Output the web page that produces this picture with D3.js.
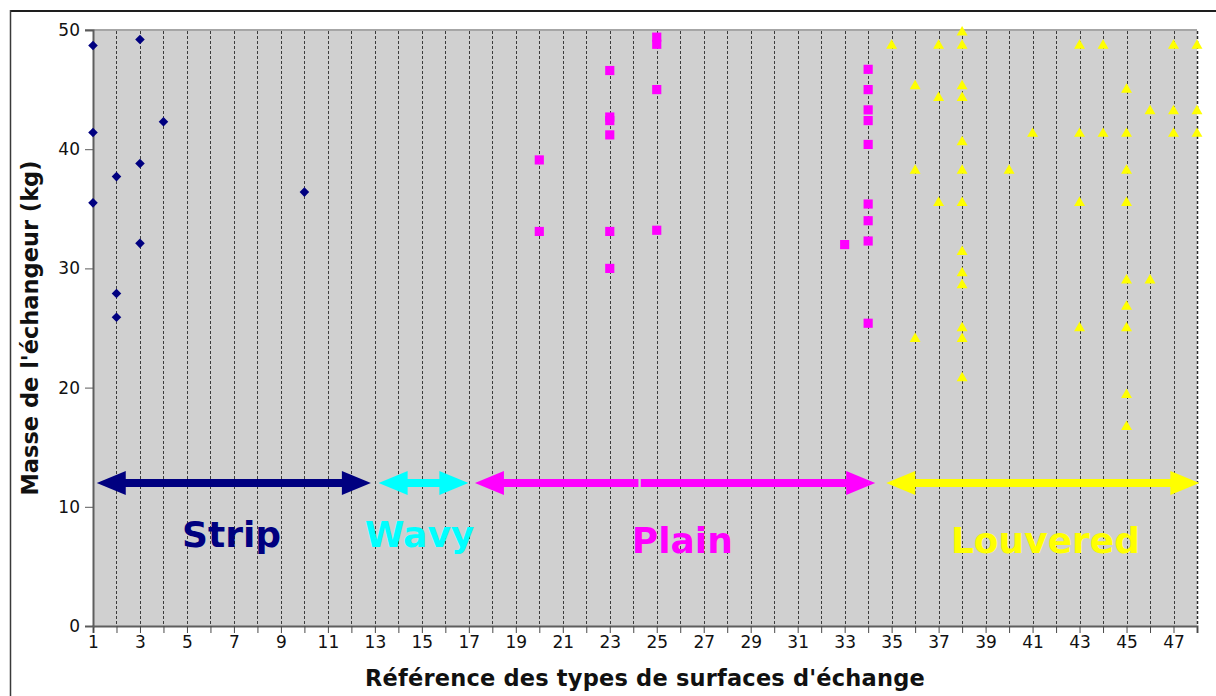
<!DOCTYPE html>
<html>
<head>
<meta charset="utf-8">
<script src="https://cdn.jsdelivr.net/npm/d3@7"></script>
<style>
  html, body { margin: 0; padding: 0; background: #ffffff; }
  svg { display: block; }
  text { font-family: "DejaVu Sans", sans-serif; }
</style>
</head>
<body>
<svg id="chart" width="1216" height="696"></svg>
<script>
// ---------- data ----------
const stripPoints = [
  [1, 48.7], [1, 41.4], [1, 35.5],
  [2, 37.7], [2, 27.9], [2, 25.9],
  [3, 49.2], [3, 38.8], [3, 32.1],
  [4, 42.3],
  [10, 36.4]
];
const plainPoints = [
  [20, 39.1], [20, 33.1],
  [23, 46.6], [23, 42.7], [23, 42.4], [23, 41.2], [23, 33.1], [23, 30.0],
  [25, 49.4], [25, 48.8], [25, 45.0], [25, 33.2],
  [33, 32.0],
  [34, 46.7], [34, 45.0], [34, 43.3], [34, 42.4], [34, 40.4], [34, 35.4], [34, 34.0], [34, 32.3], [34, 25.4]
];
const louveredPoints = [
  [35, 48.7],
  [36, 45.3], [36, 38.2], [36, 24.1],
  [37, 48.7], [37, 44.3], [37, 35.5],
  [38, 49.8], [38, 48.7], [38, 45.3], [38, 44.3], [38, 40.6], [38, 38.2], [38, 35.5],
  [38, 31.4], [38, 29.6], [38, 28.6], [38, 25.0], [38, 24.1], [38, 20.8],
  [40, 38.2],
  [41, 41.3],
  [43, 48.7], [43, 41.3], [43, 35.5], [43, 25.0],
  [44, 48.7], [44, 41.3],
  [45, 45.0], [45, 41.3], [45, 38.2], [45, 35.5], [45, 29.0], [45, 26.8], [45, 25.0], [45, 19.4], [45, 16.7],
  [46, 43.2], [46, 29.0],
  [47, 48.7], [47, 43.2], [47, 41.3],
  [48, 48.7], [48, 43.2], [48, 41.3]
];
const categoryNames = ["Strip", "Wavy", "Plain", "Louvered"];
const categoryColors = ["#000080", "#00ffff", "#ff00ff", "#ffff00"];
// arrow spans (x from, x to, heads) on the category level y = 12
const arrowLevel = 12;
const arrowSpans = [
  { cat: 0, from: 1.16, to: 12.83, left: true, right: true },
  { cat: 1, from: 13.16, to: 16.98, left: true, right: true },
  { cat: 2, from: 17.26, to: 24.22, left: true, right: false },
  { cat: 2, from: 24.32, to: 34.3, left: false, right: true },
  { cat: 3, from: 34.77, to: 48.1, left: true, right: true }
];
// category label anchor (data coords)
const labelAnchors = [[6.9, 6.63], [14.9, 6.65], [26.09, 6.12], [41.55, 6.12]];
const xTickValues = d3.range(1, 48, 2);
const xGridValues = d3.range(1, 49, 1);
const yTickValues = [0, 10, 20, 30, 40, 50];
const xTitle = "Référence des types de surfaces d'échange";
const yTitle = "Masse de l'échangeur (kg)";

// ---------- layout ----------
const svg = d3.select("#chart");
const pLeft = 93, pRight = 1197, pTop = 30, pBottom = 626;
const x = d3.scaleLinear().domain([1, 48]).range([pLeft, pRight]);
const y = d3.scaleLinear().domain([0, 50]).range([pBottom, pTop]);

// outer frame (top & left edges visible)
svg.append("line").attr("x1", 10).attr("x2", 1216).attr("y1", 11).attr("y2", 11)
  .attr("stroke", "#1e1e1e").attr("stroke-width", 2);
svg.append("line").attr("x1", 10.5).attr("x2", 10.5).attr("y1", 10).attr("y2", 696)
  .attr("stroke", "#3a3a3a").attr("stroke-width", 1.5);

// plot background
svg.append("rect").attr("x", pLeft).attr("y", pTop)
  .attr("width", pRight - pLeft).attr("height", pBottom - pTop)
  .attr("fill", "#d0d0d0");
svg.append("line").attr("x1", pLeft - 8).attr("x2", pRight).attr("y1", pTop).attr("y2", pTop)
  .attr("stroke", "#a6a6a6").attr("stroke-width", 2);

// vertical dashed grid
svg.append("g").selectAll("line").data(xGridValues.filter(v => v > 1)).join("line")
  .attr("x1", d => Math.round(x(d)) + 0.5).attr("x2", d => Math.round(x(d)) + 0.5)
  .attr("y1", pTop + 1).attr("y2", pBottom)
  .attr("stroke", d => d === 48 ? "#2a2a2a" : "#3c3c3c")
  .attr("stroke-width", d => d === 48 ? 1.5 : 1)
  .attr("stroke-dasharray", "3,2");

// x axis
const xAxis = svg.append("g").attr("transform", `translate(0,${pBottom})`)
  .call(d3.axisBottom(x).tickValues(xGridValues).tickSize(7).tickPadding(3)
    .tickFormat(d => xTickValues.includes(d) ? d : ""));
xAxis.select(".domain").attr("stroke", "#5e5e5e").attr("stroke-width", 2);
xAxis.selectAll(".tick line").attr("stroke", "#4a4a4a");
xAxis.selectAll(".tick text").attr("font-size", 17).attr("fill", "#111")
  .attr("font-family", "DejaVu Sans");

// y axis
const yAxis = svg.append("g").attr("transform", `translate(${pLeft},0)`)
  .call(d3.axisLeft(y).tickValues(yTickValues).tickSize(8).tickPadding(5));
yAxis.select(".domain").attr("stroke", "#5e5e5e").attr("stroke-width", 2);
yAxis.selectAll(".tick line").attr("stroke", "#5a5a5a");
yAxis.selectAll(".tick text").attr("font-size", 17).attr("fill", "#111")
  .attr("font-family", "DejaVu Sans");

// arrows
const shaft = 8, headLen = 29, headHalf = 12;
function arrowPath(a) {
  const x0 = x(a.from), x1 = x(a.to), yc = y(arrowLevel);
  const p = d3.path();
  const s = shaft / 2;
  if (a.left) {
    p.moveTo(x0, yc);
    p.lineTo(x0 + headLen, yc - headHalf);
    p.lineTo(x0 + headLen, yc - s);
  } else {
    p.moveTo(x0, yc - s);
  }
  if (a.right) {
    p.lineTo(x1 - headLen, yc - s);
    p.lineTo(x1 - headLen, yc - headHalf);
    p.lineTo(x1, yc);
    p.lineTo(x1 - headLen, yc + headHalf);
    p.lineTo(x1 - headLen, yc + s);
  } else {
    p.lineTo(x1, yc - s);
    p.lineTo(x1, yc + s);
  }
  if (a.left) {
    p.lineTo(x0 + headLen, yc + s);
    p.lineTo(x0 + headLen, yc + headHalf);
  } else {
    p.lineTo(x0, yc + s);
  }
  p.closePath();
  return p.toString();
}
svg.append("g").selectAll("path").data(arrowSpans).join("path")
  .attr("d", arrowPath)
  .attr("fill", d => categoryColors[d.cat]);

// category labels
svg.append("g").selectAll("text").data(categoryNames).join("text")
  .attr("x", (d, i) => x(labelAnchors[i][0]))
  .attr("y", (d, i) => y(labelAnchors[i][1]))
  .attr("text-anchor", "middle")
  .attr("font-size", 36).attr("font-weight", "bold")
  .attr("fill", (d, i) => categoryColors[i])
  .text(d => d);

// points
const diamond = d3.symbol().type(d3.symbolSquare).size(46);
const square = d3.symbol().type(d3.symbolSquare).size(84);
const triangle = d3.symbol().type(d3.symbolTriangle).size(52);

svg.append("g").selectAll("path").data(stripPoints).join("path")
  .attr("d", diamond)
  .attr("transform", d => `translate(${x(d[0])},${y(d[1])}) rotate(45)`)
  .attr("fill", categoryColors[0]);
svg.append("g").selectAll("path").data(plainPoints).join("path")
  .attr("d", square)
  .attr("transform", d => `translate(${x(d[0])},${y(d[1])})`)
  .attr("fill", categoryColors[2]);
svg.append("g").selectAll("path").data(louveredPoints).join("path")
  .attr("d", triangle)
  .attr("transform", d => `translate(${x(d[0])},${y(d[1])})`)
  .attr("fill", categoryColors[3]);

// axis titles
svg.append("text").attr("x", (pLeft + pRight) / 2).attr("y", 686)
  .attr("text-anchor", "middle").attr("font-size", 22.5).attr("font-weight", "bold")
  .attr("letter-spacing", 0.2)
  .attr("fill", "#111").text(xTitle);
svg.append("text").attr("transform", `translate(38,${(pTop + pBottom) / 2}) rotate(-90)`)
  .attr("text-anchor", "middle").attr("font-size", 22.5).attr("font-weight", "bold")
  .attr("fill", "#111").text(yTitle);
</script>
</body>
</html>
